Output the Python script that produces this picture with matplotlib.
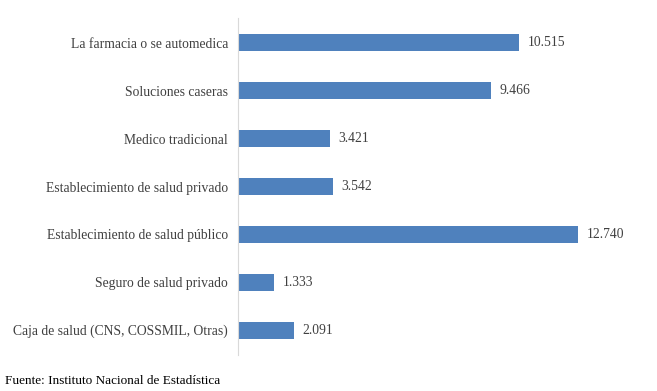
import matplotlib
matplotlib.use("Agg")
import matplotlib.pyplot as plt

# Datos (de abajo hacia arriba)
categorias = [
    "Caja de salud (CNS, COSSMIL, Otras)",
    "Seguro de salud privado",
    "Establecimiento de salud público",
    "Establecimiento de salud privado",
    "Medico tradicional",
    "Soluciones caseras",
    "La farmacia o se automedica",
]
valores = [2091, 1333, 12740, 3542, 3421, 9466, 10515]

plt.rcParams["font.family"] = "Liberation Serif"

fig = plt.figure(figsize=(6.57, 3.91), dpi=100)
ax = fig.add_axes([0.363, 0.092, 0.609, 0.862])

ax.barh(range(len(valores)), valores, height=0.36, color="#4F81BD")

for i, v in enumerate(valores):
    ax.text(v + 320, i, f"{v:,}".replace(",", "."), va="center", ha="left",
            fontsize=9.8, color="#404040")

ax.set_yticks(range(len(categorias)))
ax.set_yticklabels(categorias, fontsize=9.8, color="#404040")
ax.tick_params(axis="y", length=0, pad=7.5)
ax.set_xticks([])
ax.set_xlim(0, 15000)
ax.set_ylim(-0.52, 6.52)

for s in ["top", "right", "bottom"]:
    ax.spines[s].set_visible(False)
ax.spines["left"].set_color("#D9D9D9")

fig.text(0.008, 0.01, "Fuente: Instituto Nacional de Estadística",
         fontsize=9.5, color="black", ha="left", va="bottom")

fig.savefig("out.png", dpi=100)
